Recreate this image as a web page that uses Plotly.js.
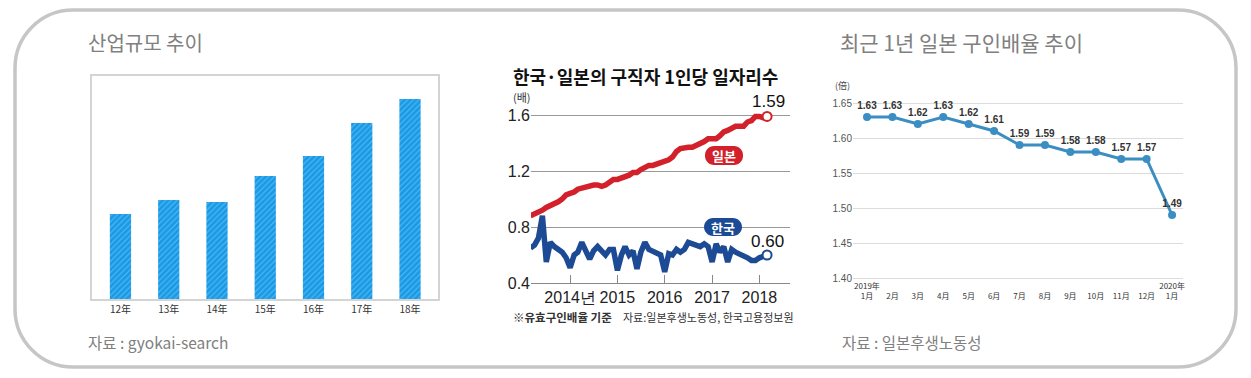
<!DOCTYPE html>
<html><head><meta charset="utf-8">
<script src="https://cdn.plot.ly/plotly-3.0.1.min.js"></script>
<style>html,body{margin:0;padding:0;background:#fff;overflow:hidden}</style>
</head><body>
<div id="chart" style="width:1251px;height:378px"></div>
<script>
const W = 1251, H = 378;

// ---- Panel 1: 산업규모 추이 ----
const barYears = ['12年','13年','14年','15年','16年','17年','18年'];
const barValues = [85, 99, 97, 123, 143, 176, 200];

// ---- Panel 2: 한국·일본의 구직자 1인당 일자리수 (monthly, 2013-03 .. 2018-03) ----
const seriesStart = [2013, 3];
const jpRatio = [
  0.88, 0.89, 0.90, 0.92, 0.94, 0.95, 0.96, 0.98, 1.00, 1.03,
  1.04, 1.05, 1.07, 1.08, 1.09, 1.10, 1.10, 1.10, 1.09, 1.10, 1.12, 1.14,
  1.14, 1.15, 1.15, 1.17, 1.19, 1.19, 1.21, 1.23, 1.24, 1.24, 1.25, 1.27,
  1.28, 1.28, 1.30, 1.34, 1.36, 1.37, 1.37, 1.37, 1.38, 1.40, 1.41, 1.43,
  1.43, 1.43, 1.45, 1.48, 1.49, 1.51, 1.52, 1.52, 1.52, 1.55, 1.56, 1.59,
  1.59, 1.58, 1.59
];
const krRatio = [
  0.65, 0.67, 0.72, 0.88, 0.55, 0.69, 0.66, 0.64, 0.62, 0.58,
  0.51, 0.60, 0.62, 0.69, 0.62, 0.57, 0.63, 0.66, 0.63, 0.60, 0.64, 0.64,
  0.49, 0.60, 0.66, 0.60, 0.63, 0.50, 0.62, 0.69, 0.64, 0.63, 0.62, 0.60,
  0.48, 0.61, 0.60, 0.64, 0.62, 0.64, 0.69, 0.68, 0.67, 0.66, 0.68, 0.66,
  0.55, 0.68, 0.62, 0.66, 0.55, 0.64, 0.62, 0.61, 0.59, 0.58, 0.56, 0.56,
  0.58, 0.59, 0.60
];
const yearTickVals = ['2014-01-01','2015-01-01','2016-01-01','2017-01-01','2018-01-01'];
const yearTickText = ['2014년','2015','2016','2017','2018'];
const ratioTicks = [0.4, 0.8, 1.2, 1.6];

// ---- Panel 3: 최근 1년 일본 구인배율 추이 ----
const monthLabels = ['2019年<br>1月',' <br>2月',' <br>3月',' <br>4月',' <br>5月',' <br>6月',
  ' <br>7月',' <br>8月',' <br>9月',' <br>10月',' <br>11月',' <br>12月','2020年<br>1月'];
const jpRecent = [1.63, 1.63, 1.62, 1.63, 1.62, 1.61, 1.59, 1.59, 1.58, 1.58, 1.57, 1.57, 1.49];

// month dates for panel 2
const months = [];
for (let i = 0; i < jpRatio.length; i++) {
  const m0 = seriesStart[1] - 1 + i;
  const y = seriesStart[0] + Math.floor(m0 / 12);
  const m = (m0 % 12) + 1;
  months.push(y + '-' + String(m).padStart(2, '0') + '-01');
}

function px(x) { return x / W; }
function py(y) { return 1 - y / H; }
function rr(x0, y0, x1, y1, r) {
  const k = 0.5523 * r;
  const P = (x, y) => px(x).toFixed(5) + ',' + py(y).toFixed(5);
  return 'M' + P(x0 + r, y0) + ' L' + P(x1 - r, y0) +
    ' C' + P(x1 - r + k, y0) + ' ' + P(x1, y0 + r - k) + ' ' + P(x1, y0 + r) +
    ' L' + P(x1, y1 - r) +
    ' C' + P(x1, y1 - r + k) + ' ' + P(x1 - r + k, y1) + ' ' + P(x1 - r, y1) +
    ' L' + P(x0 + r, y1) +
    ' C' + P(x0 + r - k, y1) + ' ' + P(x0, y1 - r + k) + ' ' + P(x0, y1 - r) +
    ' L' + P(x0, y0 + r) +
    ' C' + P(x0, y0 + r - k) + ' ' + P(x0 + r - k, y0) + ' ' + P(x0 + r, y0) + ' Z';
}

const KR = 'Noto Sans CJK KR, sans-serif';
const NARROW = 'Liberation Sans Narrow, Liberation Sans, Arial, sans-serif';
const RED = '#d2212a', NAVY = '#1d4a95';

const traces = [
  { type: 'bar', x: barYears, y: barValues, xaxis: 'x', yaxis: 'y', width: 0.44,
    marker: { color: '#1a9ae6', line: { width: 0 },
      pattern: { shape: '/', fgcolor: '#58bcf3', bgcolor: '#1a9ae6', size: 4, solidity: 0.25 } },
    hoverinfo: 'skip' },
  { type: 'scatter', mode: 'lines', x: months, y: jpRatio, xaxis: 'x2', yaxis: 'y2',
    line: { color: RED, width: 5.5 }, cliponaxis: false },
  { type: 'scatter', mode: 'lines', x: months, y: krRatio, xaxis: 'x2', yaxis: 'y2',
    line: { color: NAVY, width: 5.5 }, cliponaxis: false },
  { type: 'scatter', mode: 'markers', x: [months[months.length - 1]], y: [jpRatio[jpRatio.length - 1]],
    xaxis: 'x2', yaxis: 'y2', cliponaxis: false,
    marker: { color: '#fff', size: 9, line: { color: RED, width: 2 } } },
  { type: 'scatter', mode: 'markers', x: [months[months.length - 1]], y: [krRatio[krRatio.length - 1]],
    xaxis: 'x2', yaxis: 'y2', cliponaxis: false,
    marker: { color: '#fff', size: 9, line: { color: NAVY, width: 2 } } },
  { type: 'scatter', mode: 'lines+markers+text', x: monthLabels, y: jpRecent, xaxis: 'x3', yaxis: 'y3',
    line: { color: '#3b8ec2', width: 3 }, marker: { color: '#3b8ec2', size: 8 },
    texttemplate: '<b>%{y:.2f}</b>', textposition: 'top center',
    textfont: { family: 'Liberation Sans, Arial, sans-serif', size: 10, color: '#333' }, cliponaxis: false }
];

const layout = {
  width: W, height: H, autosize: false, showlegend: false,
  margin: { l: 0, r: 0, t: 0, b: 0 },
  paper_bgcolor: '#fff', plot_bgcolor: 'rgba(0,0,0,0)',
  xaxis: { domain: [px(92), px(438)], anchor: 'y', type: 'category', range: [-0.59, 6.58],
    showline: true, mirror: true, linecolor: '#d4d4d4', linewidth: 2, ticks: '', showgrid: false,
    tickfont: { family: KR, size: 10, color: '#333' }, fixedrange: true },
  yaxis: { domain: [py(299), py(76)], anchor: 'x', range: [0, 223], showticklabels: false,
    showline: true, mirror: true, linecolor: '#d4d4d4', linewidth: 2, showgrid: false, zeroline: false, ticks: '' },
  xaxis2: { domain: [px(531), px(790)], anchor: 'y2', type: 'date', range: ['2013-03-05', '2018-08-25'],
    tickmode: 'array', tickvals: yearTickVals, ticktext: yearTickText,
    ticks: 'inside', ticklen: 8, tickcolor: '#888', tickwidth: 1,
    showline: true, linecolor: '#888', linewidth: 1, showgrid: false,
    tickfont: { family: NARROW, size: 16, color: '#222' } },
  yaxis2: { domain: [py(283), py(283 - 1.22 * 140)], anchor: 'x2', range: [0.4, 1.62],
    tickmode: 'array', tickvals: ratioTicks, tickformat: '.1f',
    showgrid: true, gridcolor: '#999', gridwidth: 1, zeroline: false, ticks: '',
    tickfont: { family: NARROW, size: 16, color: '#222' } },
  xaxis3: { domain: [px(853), px(1183)], anchor: 'y3', type: 'category', range: [-0.55, 12.43],
    ticks: '', showgrid: false, showline: true, linecolor: '#dcdcdc',
    tickfont: { family: 'Noto Sans CJK JP, sans-serif', size: 8, color: '#333' } },
  yaxis3: { domain: [py(278), py(96)], anchor: 'x3', range: [1.40, 1.66], dtick: 0.05, tick0: 1.40,
    tickformat: '.2f', showgrid: true, gridcolor: '#dcdcdc', gridwidth: 1, zeroline: false, ticks: '',
    tickfont: { family: 'Liberation Sans, Arial, sans-serif', size: 10, color: '#555' } },
  shapes: [
    { type: 'path', xref: 'paper', yref: 'paper', path: rr(15, 10, 1236, 367, 58),
      line: { color: '#c6c6c6', width: 3.5 }, fillcolor: 'rgba(0,0,0,0)', layer: 'below' },
    { type: 'path', xref: 'paper', yref: 'paper', path: rr(705, 146, 743, 165, 9),
      line: { width: 0 }, fillcolor: RED, layer: 'above' },
    { type: 'path', xref: 'paper', yref: 'paper', path: rr(704, 218, 742, 236, 9),
      line: { width: 0 }, fillcolor: NAVY, layer: 'above' }
  ],
  annotations: [
    { text: '산업규모 추이', x: px(86), y: py(42), xanchor: 'left', yanchor: 'middle',
      font: { family: KR, size: 20, color: '#808080' } },
    { text: '자료 : gyokai-search', x: px(86), y: py(342), xanchor: 'left', yanchor: 'middle',
      font: { family: KR, size: 15.5, color: '#808080' } },
    { text: '최근 1년 일본 구인배율 추이', x: px(838), y: py(42), xanchor: 'left', yanchor: 'middle',
      font: { family: KR, size: 21, color: '#808080' } },
    { text: '자료 : 일본후생노동성', x: px(840), y: py(342), xanchor: 'left', yanchor: 'middle',
      font: { family: KR, size: 15.5, color: '#808080' } },
    { text: '<b>한국·일본의 구직자 1인당 일자리수</b>', x: px(511), y: py(76), xanchor: 'left', yanchor: 'middle',
      font: { family: KR, size: 18, color: '#111' } },
    { text: '(배)', x: px(511), y: py(97), xanchor: 'left', yanchor: 'middle',
      font: { family: KR, size: 11, color: '#333' } },
    { text: '1.59', x: px(768), y: py(102), xanchor: 'center', yanchor: 'middle',
      font: { family: NARROW, size: 17, color: '#111' } },
    { text: '0.60', x: px(767), y: py(241), xanchor: 'center', yanchor: 'middle',
      font: { family: NARROW, size: 17, color: '#111' } },
    { text: '<b>일본</b>', x: px(724), y: py(155.5), xanchor: 'center', yanchor: 'middle',
      font: { family: KR, size: 13, color: '#fff' } },
    { text: '<b>한국</b>', x: px(723), y: py(227), xanchor: 'center', yanchor: 'middle',
      font: { family: KR, size: 13, color: '#fff' } },
    { text: '<b>※유효구인배율 기준</b>', x: px(511), y: py(317), xanchor: 'left', yanchor: 'middle',
      font: { family: KR, size: 11.5, color: '#333' } },
    { text: '자료:일본후생노동성, 한국고용정보원', x: px(621), y: py(317), xanchor: 'left', yanchor: 'middle',
      font: { family: KR, size: 11, color: '#333' } },
    { text: '(倍)', x: px(833), y: py(85), xanchor: 'left', yanchor: 'middle',
      font: { family: 'Noto Sans CJK JP, sans-serif', size: 9, color: '#444' } }
  ].map(a => Object.assign({ xref: 'paper', yref: 'paper', showarrow: false }, a))
};

Plotly.newPlot('chart', traces, layout, { staticPlot: true, displayModeBar: false });
</script>
</body></html>
